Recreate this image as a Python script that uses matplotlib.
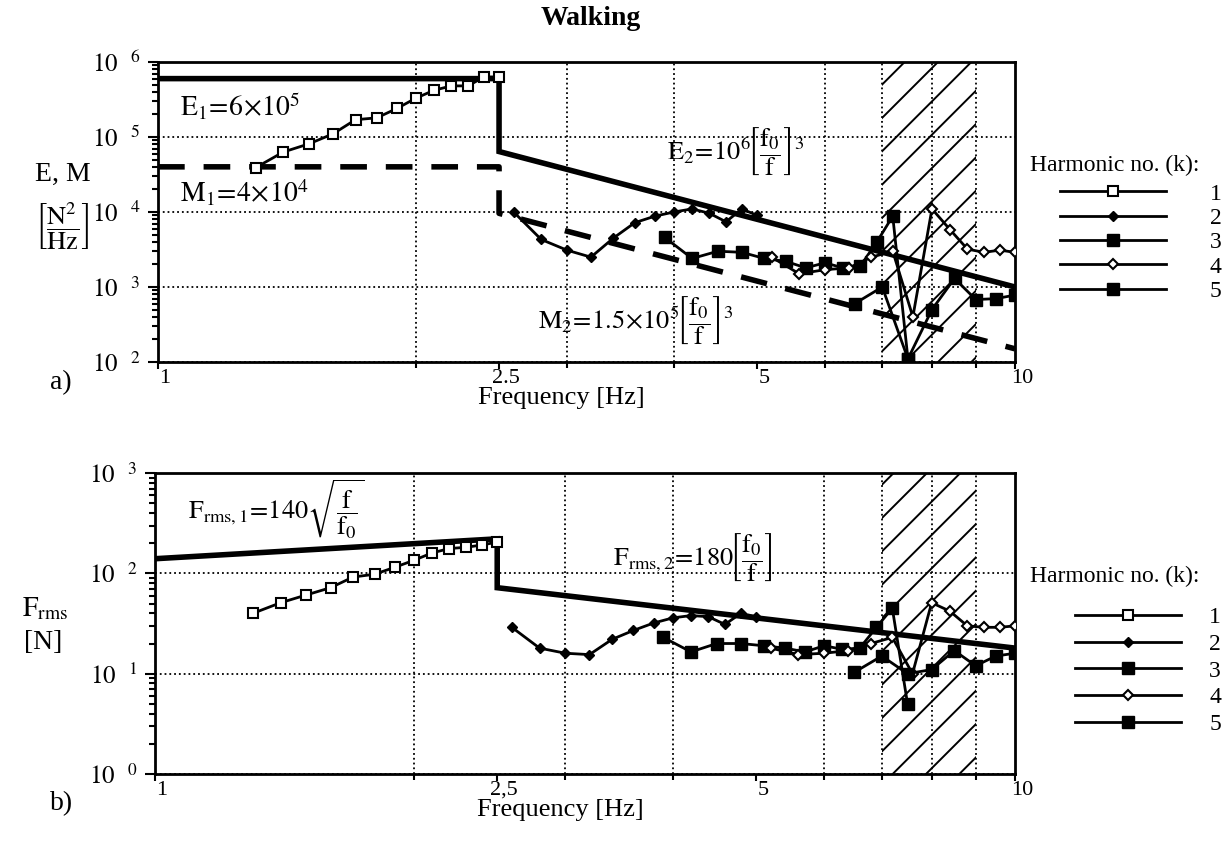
import matplotlib
matplotlib.use('Agg')
import matplotlib.pyplot as plt
from matplotlib.lines import Line2D
from matplotlib.transforms import ScaledTranslation

plt.rcParams['font.family'] = ['Liberation Serif', 'DejaVu Serif']
plt.rcParams['mathtext.fontset'] = 'stix'
plt.rcParams['hatch.linewidth'] = 1.4

# frequencies of each harmonic [Hz]
f_h1 = [1.3, 1.4, 1.5, 1.6, 1.7, 1.8, 1.9, 2.0, 2.1, 2.2, 2.3, 2.4, 2.5]
f_h2 = [2.6, 2.8, 3.0, 3.2, 3.4, 3.6, 3.8, 4.0, 4.2, 4.4, 4.6, 4.8, 5.0]
f_h3 = [3.9, 4.2, 4.5, 4.8, 5.1, 5.4, 5.7, 6.0, 6.3, 6.6, 6.9, 7.2, 7.5]
f_h4 = [5.2, 5.6, 6.0, 6.4, 6.8, 7.2, 7.6, 8.0, 8.4, 8.8, 9.2, 9.6, 10.0]
f_h5 = [6.5, 7.0, 7.5, 8.0, 8.5, 9.0, 9.5, 10.0]

# panel a) E, M [N^2/Hz]
a_h1 = [3.9e4, 6.3e4, 8.1e4, 1.1e5, 1.7e5, 1.8e5, 2.4e5, 3.3e5, 4.2e5, 4.8e5, 4.8e5, 6.3e5, 6.3e5]
a_h2 = [1.0e4, 4.3e3, 3.1e3, 2.5e3, 4.5e3, 7.2e3, 8.8e3, 1.0e4, 1.1e4, 9.6e3, 7.4e3, 1.1e4, 9.0e3]
a_h3 = [4.6e3, 2.4e3, 3.0e3, 2.9e3, 2.4e3, 2.2e3, 1.8e3, 2.1e3, 1.8e3, 1.9e3, 4.0e3, 8.8e3, 1.1e2]
a_h4 = [2.5e3, 1.5e3, 1.7e3, 1.8e3, 2.5e3, 3.0e3, 4.0e2, 1.1e4, 5.8e3, 3.2e3, 2.9e3, 3.1e3, 2.9e3]
a_h5 = [6.0e2, 1.0e3, 1.1e2, 5.0e2, 1.3e3, 6.8e2, 7.0e2, 7.8e2]

# panel b) Frms [N]
b_h1 = [40, 51, 61, 72, 92, 98, 115, 135, 160, 177, 182, 192, 205]
b_h2 = [29, 18, 16, 15.5, 22, 27, 32, 36, 38, 37, 31, 40, 37]
b_h3 = [23, 16.5, 20, 20, 19, 18, 16.5, 19, 17.5, 18, 29, 45, 5]
b_h4 = [18, 15.5, 16, 17, 20, 23, 10, 51, 42, 30, 29, 29, 30]
b_h5 = [10.3, 15, 10, 11, 17, 12, 15, 16]

# design envelopes
env_f = [1, 2.5, 2.5, 10]
E_env = [6e5, 6e5, 6.4e4, 1e3]
M_env = [4e4, 4e4, 9.6e3, 1.5e2]
F_env = [140, 221, 72, 18]

xticks = [1, 2.5, 5, 10]
grid_x = [2, 3, 4, 5, 6, 7, 8, 9]
hatch_band = (7, 9)

styles = [
    dict(marker='s', mfc='white', mec='black', ms=7, mew=1.5),
    dict(marker='D', mfc='black', mec='black', ms=5.5),
    dict(marker='s', mfc='black', mec='black', ms=9),
    dict(marker='D', mfc='white', mec='black', ms=5.5, mew=1.5),
    dict(marker='s', mfc='black', mec='black', ms=9),
]

fig = plt.figure(figsize=(12.26, 8.49), dpi=100)
ax1 = fig.add_axes([0.1289, 0.5736, 0.699, 0.3534])
ax2 = fig.add_axes([0.1264, 0.0883, 0.7015, 0.3545])


def setup(ax, ylim, yticks, ylabels, xlabels):
    ax.set_xscale('log')
    ax.set_yscale('log')
    ax.set_xlim(1, 10)
    ax.set_ylim(*ylim)
    ax.axvspan(*hatch_band, facecolor='none', edgecolor='black', hatch='/', lw=0, zorder=0)
    ax.set_xticks(xticks)
    ax.set_xticks(grid_x, minor=True)
    ax.set_xticklabels(xlabels, fontsize=16)
    ax.xaxis.set_minor_formatter(plt.NullFormatter())
    ax.set_yticks(yticks)
    ax.set_yticklabels(ylabels, fontsize=18)
    ax.grid(True, which='minor', axis='x', color='black', ls=':', lw=1.3)
    ax.grid(True, which='major', axis='y', color='black', ls=':', lw=1.3)
    ax.tick_params(which='both', direction='out', width=1.5)
    ax.tick_params(axis='x', which='major', length=5, pad=0)
    ax.tick_params(axis='y', which='major', length=7, pad=6)
    ax.tick_params(which='minor', length=4)
    for s in ax.spines.values():
        s.set_linewidth(2)
    for lab in ax.get_xticklabels():
        lab.set_transform(lab.get_transform() + ScaledTranslation(0.07, 0, fig.dpi_scale_trans))
    ax.set_xlabel('Frequency [Hz]', fontsize=19)


freqs = [f_h1, f_h2, f_h3, f_h4, f_h5]
frac = r'\left[\dfrac{\mathrm{f}_0}{\mathrm{f}}\right]'

# ---- panel a
setup(ax1, (1e2, 1e6), [1e2, 1e3, 1e4, 1e5, 1e6],
      [r'$10^{\quad 2}$', r'$10^{\quad 3}$', r'$10^{\quad 4}$', r'$10^{\quad 5}$', r'$10^{\quad 6}$'],
      ['1', '2.5', '5', '10'])
ax1.xaxis.set_label_coords(0.471, -0.084)
ax1.plot(env_f, E_env, color='black', lw=4, zorder=3, solid_joinstyle='miter')
ax1.plot(env_f, M_env, color='black', lw=4, dashes=(4.8, 3.4), zorder=3)
for f, v, st in zip(freqs, [a_h1, a_h2, a_h3, a_h4, a_h5], styles):
    ax1.plot(f, v, color='black', lw=2, zorder=4, **st)

ax1.text(0.026, 0.85, r'$\mathrm{E}_1\!=\!6\!\times\!10^5$', transform=ax1.transAxes, fontsize=20, va='center')
ax1.text(0.026, 0.563, r'$\mathrm{M}_1\!=\!4\!\times\!10^4$', transform=ax1.transAxes, fontsize=20, va='center')
ax1.text(0.594, 0.70, r'$\mathrm{E}_2\!=\!10^6\!' + frac + '^3$',
         transform=ax1.transAxes, fontsize=19, va='center')
ax1.text(0.443, 0.14, r'$\mathrm{M}_2\!=\!1.5\!\times\!10^5\!' + frac + '^3$',
         transform=ax1.transAxes, fontsize=19, va='center')

# ---- panel b
setup(ax2, (1e0, 1e3), [1e0, 1e1, 1e2, 1e3],
      [r'$10^{\quad 0}$', r'$10^{\quad 1}$', r'$10^{\quad 2}$', r'$10^{\quad 3}$'],
      ['1', '2,5', '5', '10'])
ax2.xaxis.set_label_coords(0.471, -0.082)
ax2.plot(env_f, F_env, color='black', lw=4, zorder=3, solid_joinstyle='miter')
for f, v, st in zip(freqs, [b_h1, b_h2, b_h3, b_h4, b_h5], styles):
    ax2.plot(f, v, color='black', lw=2, zorder=4, **st)

ax2.text(0.038, 0.88, r'$\mathrm{F}_{\mathrm{rms,1}}\!=\!140\sqrt{\dfrac{\mathrm{f}}{\mathrm{f}_0}}$',
         transform=ax2.transAxes, fontsize=19, va='center')
ax2.text(0.533, 0.72, r'$\mathrm{F}_{\mathrm{rms,2}}\!=\!180\!' + frac + '$',
         transform=ax2.transAxes, fontsize=19, va='center')

# legends
handles = [Line2D([], [], color='black', lw=2, **st) for st in styles]
labels = ['1', '2', '3', '4', '5']
for ax, tx, ty, lx, ly, sp, pad in [(ax1, 1.017, 0.69, 1.044, 0.62, 0.12, 1.85),
                                    (ax2, 1.017, 0.69, 1.061, 0.58, 0.22, 1.2)]:
    ax.text(tx, ty, 'Harmonic no. (k):', transform=ax.transAxes, fontsize=17, va='top', ha='left')
    ax.legend(handles, labels, loc='upper left', bbox_to_anchor=(lx, ly), frameon=False,
              fontsize=17, handlelength=4.5, handletextpad=pad, labelspacing=sp,
              borderaxespad=0, borderpad=0.3)

# axis titles
fig.text(0.051, 0.794, 'E, M', fontsize=20, ha='center', va='center')
fig.text(0.051, 0.733, r'$\left[\dfrac{\mathrm{N}^2}{\mathrm{Hz}}\right]$', fontsize=19, ha='center', va='center')
fig.text(0.037, 0.282, r'$\mathrm{F}_{\mathrm{rms}}$', fontsize=20, ha='center', va='center')
fig.text(0.035, 0.243, '[N]', fontsize=20, ha='center', va='center')
fig.text(0.05, 0.549, 'a)', fontsize=20, ha='center', va='center')
fig.text(0.05, 0.054, 'b)', fontsize=20, ha='center', va='center')

fig.suptitle('Walking', x=0.482, y=0.993, fontsize=20, fontweight='bold', va='top')

fig.savefig('out.png', dpi=100)
